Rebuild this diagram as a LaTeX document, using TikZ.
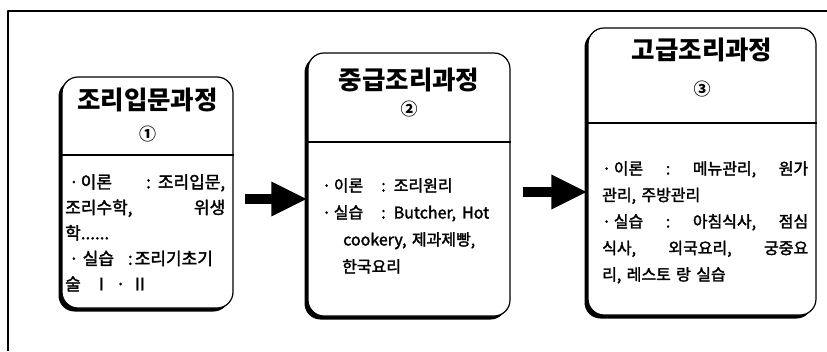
\documentclass[tikz,border=0pt]{standalone}
\usepackage{fontspec}
\setmainfont{Noto Sans CJK KR}
\newfontfamily\bodyfont{Noto Sans CJK KR}[FakeBold=2]
\usetikzlibrary{arrows.meta,shadows}

\begin{document}
\begin{tikzpicture}[x=1pt, y=-1pt, line join=round,
  card/.style={draw, line width=1.2pt, rounded corners=16pt, fill=white, inner sep=0pt,
    general shadow={fill=black, shadow xshift=-3.5pt, shadow yshift=-3.5pt}},
  cardtitle/.style={font=\fontsize{25.5}{28}\selectfont\bfseries},
  cardnum/.style={font=\fontsize{17}{20}\selectfont\bfseries},
  cardbody/.style={anchor=north west, inner sep=0pt, align=left, font=\bodyfont\fontsize{16}{26.5}\selectfont},
  divider/.style={line width=2.2pt},
  bigarrow/.style={line width=10pt, -{Triangle[length=36pt, width=32pt]}}]
\useasboundingbox (0,0) rectangle (827,351);
% outer frame
\draw[line width=1.5pt] (8,351) -- (8,11) -- (827,11);

% the three course cards
\node[card, minimum width=171pt, minimum height=231pt] (b1) at (147.5,192.5) {};
\node[card, minimum width=202pt, minimum height=263pt] (b2) at (409,184.5) {};
\node[card, minimum width=228pt, minimum height=287pt] (b3) at (702,171.5) {};

\coordinate (d1) at (0,155);
\coordinate (d2) at (0,142);
\coordinate (d3) at (0,123);
\draw[divider] (b1.west |- d1) -- (b1.east |- d1);
\draw[divider] (b2.west |- d2) -- (b2.east |- d2);
\draw[divider] (b3.west |- d3) -- (b3.east |- d3);

\node[cardtitle] (t1) at (147.5,100) {조리입문과정};
\node[cardnum] (n1) at (147.5,134) {①};
\node[cardtitle] (t2) at (409,80) {중급조리과정};
\node[cardnum] (n2) at (409,109) {②};
\node[cardtitle] (t3) at (702,50) {고급조리과정};
\node[cardnum] (n3) at (702,89) {③};

\node[cardbody, text width=160pt, font=\bodyfont\fontsize{17}{25.5}\selectfont] (p1) at (65,174)
  {\hspace*{4pt}·\hspace{2pt}이론\hfill :\hspace{7pt}조리입문,\\ 조리수학,\hfill 위생\\ 학......\\
   \hspace*{4pt}·\hspace{4pt}실습\hspace{14pt}:\hspace{2pt}조리기초기\\ 술\hspace{12pt}Ⅰ\hspace{6pt}·\hspace{6pt}Ⅱ};
\node[cardbody, text width=185pt, font=\bodyfont\fontsize{16}{27}\selectfont] (p2) at (318,178)
  {\hspace*{4pt}·\,이론\hspace{18pt}:\hspace{8pt}조리원리\\ \hspace*{4pt}·\,실습\hspace{18pt}:\hspace{8pt}Butcher,\hspace{6pt}Hot\\
   \hspace*{25pt}cookery, 제과제빵,\\ \hspace*{24pt}한국요리};
\node[cardbody, text width=206pt] (p3) at (602,161)
  {·\,이론\hfill :\hfill 메뉴관리,\hfill 원가\\ 관리, 주방관리\\ ·\,실습\hfill :\hfill 아침식사,\hfill 점심\\ 식사,\hfill 외국요리,\hfill 궁중요\\ 리, 레스토 랑 실습};

% arrows between the cards
\coordinate (a1) at (245,199);
\coordinate (a2) at (523,192);
\draw[bigarrow] (a1) -- (b2.west |- a1);
\draw[bigarrow] (a2) -- (b3.west |- a2);
\end{tikzpicture}
\end{document}
